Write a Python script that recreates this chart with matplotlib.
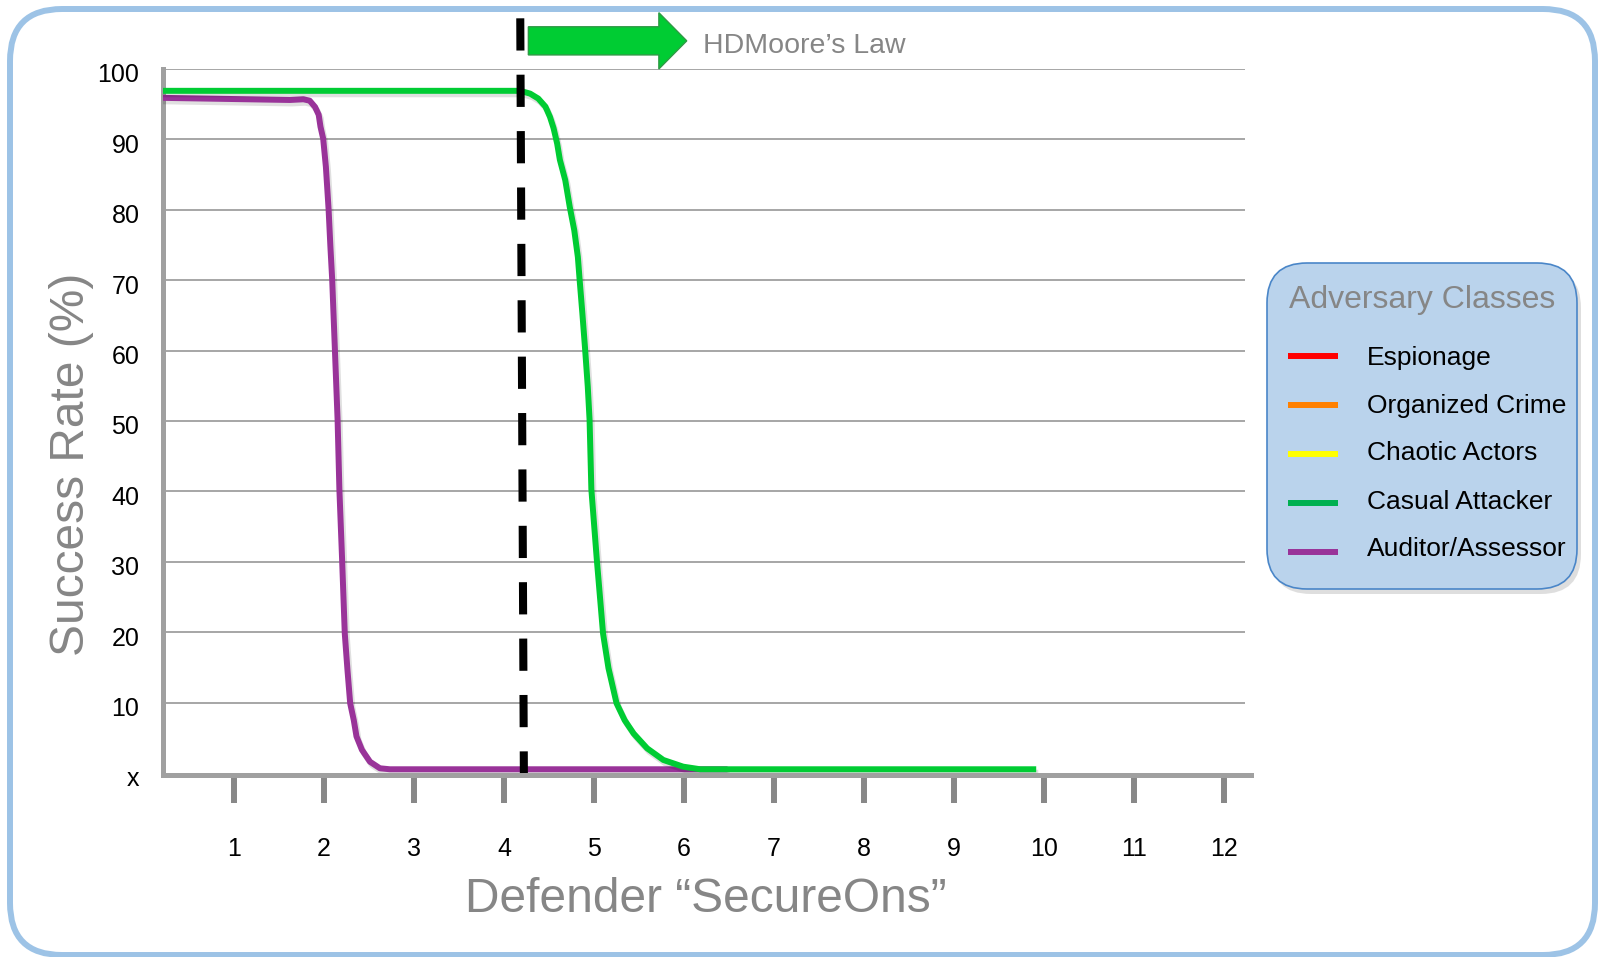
import matplotlib
matplotlib.use("Agg")
import matplotlib.pyplot as plt
import matplotlib.patheffects as pe
from matplotlib.patches import FancyBboxPatch, FancyArrow
from matplotlib.transforms import IdentityTransform, ScaledTranslation

plt.rcParams['font.family'] = ['Liberation Sans', 'DejaVu Sans']

# success curves, x = defender "SecureOns", y = success rate (%)
auditor_x = [0.21, 1.62, 1.77, 1.84, 1.90, 1.94, 1.96, 1.99, 2.02, 2.05, 2.07, 2.09,
             2.12, 2.15, 2.17, 2.20, 2.23, 2.26, 2.29, 2.33, 2.36, 2.42, 2.51, 2.62,
             2.73, 6.45]
auditor_y = [95.9, 95.6, 95.7, 95.5, 94.6, 93.5, 91.8, 90.1, 86.1, 80.1, 74.8, 70.1,
             60.2, 50.2, 40.3, 30.4, 19.8, 14.6, 9.9, 7.5, 5.2, 3.3, 1.6, 0.67,
             0.53, 0.53]

casual_x = [0.21, 4.18, 4.29, 4.38, 4.46, 4.51, 4.55, 4.59, 4.62, 4.68, 4.73, 4.78,
            4.82, 4.84, 4.87, 4.90, 4.93, 4.95, 4.97, 5.03, 5.10, 5.16, 5.25, 5.34,
            5.44, 5.59, 5.77, 5.99, 6.18, 9.88]
casual_y = [96.9, 96.9, 96.5, 95.8, 94.65, 93.2, 91.6, 89.4, 87.1, 84.2, 80.4, 77.1,
            73.3, 70, 65.3, 60.3, 54.9, 50.2, 40.3, 30.4, 19.8, 14.9, 9.9, 7.5,
            5.6, 3.5, 1.85, 0.9, 0.53, 0.53]

# HDMoore's law marker and arrow
law_x = [4.18, 4.22]
law_y = [107.2, 0]
law_arrow_x = [4.27, 6.03]
law_arrow_y = 104

x_ticks = [1, 2, 3, 4, 5, 6, 7, 8, 9, 10, 11, 12]
y_ticks = [0, 10, 20, 30, 40, 50, 60, 70, 80, 90, 100]
y_tick_labels = ['x', '10', '20', '30', '40', '50', '60', '70', '80', '90', '100']

classes = ['Espionage', 'Organized Crime', 'Chaotic Actors', 'Casual Attacker', 'Auditor/Assessor']
class_colors = ['#ff0000', '#ff8000', '#ffff00', '#00b050', '#993399']

FIG_W, FIG_H = 1598, 957
GRID = '#a6a6a6'
GREY_TEXT = '#868686'


def rounded_box(fig, left, top, right, bottom, radius, **kw):
	# box in image pixels (origin top-left)
	box = FancyBboxPatch((left, FIG_H - bottom), right - left, bottom - top,
						boxstyle="round,pad=0,rounding_size=%d" % radius,
						transform=IdentityTransform(), **kw)
	fig.add_artist(box)
	return box


def draw_legend(fig):
	rounded_box(fig, 1271, 268, 1581, 594, 40, facecolor='#7f7f7f', edgecolor='none', alpha=0.25, zorder=1)
	rounded_box(fig, 1267, 263, 1577, 589, 40, facecolor='#bad3ec', edgecolor='#4a86c8', linewidth=1.2, zorder=2)
	fig.text(1422 / FIG_W, 1 - 308 / FIG_H, 'Adversary Classes', ha='center', va='baseline',
			fontsize=23, color=GREY_TEXT, zorder=3)
	for i, (name, col) in enumerate(zip(classes, class_colors)):
		yy = 356 + 49 * i
		fig.add_artist(plt.Line2D([1288 / FIG_W, 1338 / FIG_W], [1 - yy / FIG_H] * 2,
									color=col, linewidth=4.3, solid_capstyle='butt', zorder=3))
		fig.text(1367 / FIG_W, 1 - (364.5 + 48 * i) / FIG_H, name, ha='left', va='baseline',
				fontsize=19, color='k', zorder=3)


def plot_success():
	fig = plt.figure(figsize=(FIG_W / 100, FIG_H / 100), dpi=100)
	ax = fig.add_axes([163 / FIG_W, (FIG_H - 773) / FIG_H, 1088 / FIG_W, 704 / FIG_H])
	ax.set_xlim(0.21, 12.3)
	ax.set_ylim(0, 100)

	ax.hlines(y_ticks[1:], 0.21, 12.23, color=GRID, linewidth=1.4, zorder=1)

	shadow = [pe.SimpleLineShadow(offset=(1.5, -2.5), shadow_color='k', alpha=0.12), pe.Normal()]
	ax.plot(auditor_x, auditor_y, color='#993399', linewidth=4.3, solid_joinstyle='round',
			path_effects=shadow, zorder=3)
	ax.plot(casual_x, casual_y, color='#00cc33', linewidth=4.3, solid_joinstyle='round',
			path_effects=shadow, zorder=4)

	ax.plot(law_x, law_y, color='k', linewidth=5.8, dashes=(4, 3), clip_on=False, zorder=6)
	ax.add_patch(FancyArrow(law_arrow_x[0], law_arrow_y, law_arrow_x[1] - law_arrow_x[0], 0,
							width=4.0, head_width=8.0, head_length=0.31, length_includes_head=True,
							facecolor='#00cc33', edgecolor='#2f9a45', linewidth=1, clip_on=False, zorder=6))
	ax.text(6.21, 102.3, 'HDMoore\u2019s Law', ha='left', va='baseline', fontsize=20.5,
			color=GREY_TEXT, clip_on=False)

	for side in ['top', 'right']:
		ax.spines[side].set_visible(False)
	for side in ['left', 'bottom']:
		ax.spines[side].set_color('#a0a0a0')
		ax.spines[side].set_linewidth(3.6)
	ax.spines['bottom'].set_position(('outward', 1.2))

	ax.set_xticks(x_ticks)
	ax.set_xticklabels([str(t) for t in x_ticks])
	ax.set_yticks(y_ticks)
	ax.set_yticklabels(y_tick_labels)
	ax.tick_params(axis='x', direction='out', length=20.5, width=4.3, color='#888888',
					pad=24.5, labelsize=18, labelcolor='k')
	ax.tick_params(axis='y', length=0, pad=17, labelsize=18, labelcolor='k')
	# y labels sit a little below their gridlines
	nudge = ScaledTranslation(0, -0.04, fig.dpi_scale_trans)
	for lab in ax.get_yticklabels():
		lab.set_transform(lab.get_transform() + nudge)

	fig.text(84 / FIG_W, 1 - 464 / FIG_H, 'Success Rate (%)', rotation=90, rotation_mode='anchor',
			ha='center', va='baseline', fontsize=34.5, color=GREY_TEXT)
	fig.text(706 / FIG_W, 1 - 912 / FIG_H, 'Defender \u201cSecureOns\u201d', ha='center', va='baseline',
			fontsize=34.5, color=GREY_TEXT)

	draw_legend(fig)
	rounded_box(fig, 10, 9, 1595, 955, 52, facecolor='none', edgecolor='#9dc3e6', linewidth=4.3, zorder=10)

	plt.savefig("out.png", dpi=100)


def main():
	plot_success()


if __name__ == "__main__":
	main()
